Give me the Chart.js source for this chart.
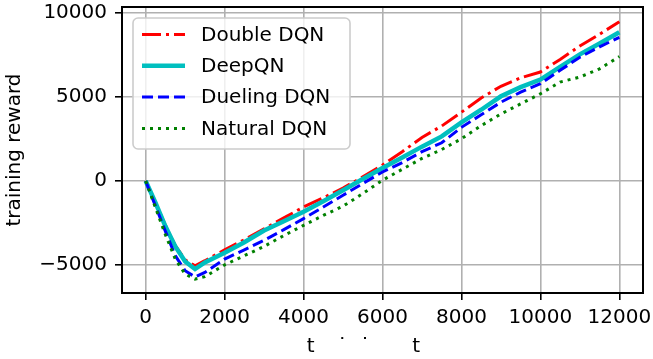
<!DOCTYPE html>
<html>
<head>
<meta charset="utf-8">
<script src="https://cdn.jsdelivr.net/npm/chart.js@4.4.1/dist/chart.umd.min.js"></script>
<style>
  html, body { margin: 0; padding: 0; background: #fff; }
  canvas { display: block; }
</style>
</head>
<body>
<canvas id="rewardChart" width="653" height="359"></canvas>
<script>
// training steps (x) shared by all runs
const STEPS = [0, 250, 500, 750, 1000, 1250, 1500, 2000, 2500, 3000, 3500, 4000, 4500, 5000,
  5500, 6000, 6500, 7000, 7500, 8000, 8500, 9000, 9500, 10000, 10500, 11000, 11500, 12000];

// cumulative training reward per run
const DOUBLE_DQN = [0, -1300, -2650, -3850, -4700, -5050, -4750, -4100, -3500, -2850, -2200, -1550, -1000, -420,
  250, 950, 1750, 2600, 3280, 4100, 4950, 5650, 6150, 6500, 7250, 8050, 8750, 9500];
const DEEP_QN = [0, -1300, -2700, -3900, -4800, -5250, -4850, -4280, -3650, -2950, -2400, -1830, -1200, -550,
  120, 780, 1400, 2050, 2660, 3500, 4250, 5050, 5600, 6050, 6800, 7550, 8200, 8870];
const DUELING_DQN = [0, -1500, -3000, -4450, -5350, -5720, -5450, -4650, -4100, -3530, -2900, -2240, -1550, -850,
  -150, 540, 1100, 1750, 2280, 3200, 3950, 4700, 5300, 5800, 6600, 7380, 8000, 8570];
const NATURAL_DQN = [0, -1600, -3200, -4650, -5550, -5850, -5700, -5000, -4450, -3900, -3250, -2640, -2050, -1500,
  -750, 50, 700, 1350, 1880, 2520, 3300, 4000, 4600, 5200, 5900, 6200, 6690, 7420];

const SERIES_LABELS = ['Double DQN', 'DeepQN', 'Dueling DQN', 'Natural DQN'];
const X_TICKS = [0, 2000, 4000, 6000, 8000, 10000, 12000];
const Y_TICKS = [-5000, 0, 5000, 10000];

const FONT = 'DejaVu Sans';
Chart.defaults.font.family = FONT;
Chart.defaults.font.size = 20;
Chart.defaults.color = '#000';

const pts = ys => STEPS.map((x, i) => ({ x, y: ys[i] }));
const minus = v => v < 0 ? '\u2212' + Math.abs(v) : String(v);

// frame + legend drawn on top, matplotlib style
const frameAndLegend = {
  id: 'frameAndLegend',
  afterDraw(chart) {
    const ctx = chart.ctx;
    const a = chart.chartArea;
    ctx.save();
    ctx.strokeStyle = '#000';
    ctx.lineWidth = 2;
    ctx.strokeRect(a.left, a.top, a.right - a.left, a.bottom - a.top);

    const bx = a.left + 11, by = a.top + 11, bw = 217, bh = 131;
    ctx.beginPath();
    ctx.roundRect(bx, by, bw, bh, 5);
    ctx.fillStyle = 'rgba(255,255,255,0.8)';
    ctx.fill();
    ctx.strokeStyle = '#cccccc';
    ctx.lineWidth = 1.6;
    ctx.stroke();

    ctx.font = '20px "' + FONT + '"';
    ctx.textBaseline = 'middle';
    ctx.textAlign = 'left';
    chart.data.datasets.forEach((ds, i) => {
      const y = a.top + 27.5 + i * 31.3;
      ctx.beginPath();
      ctx.setLineDash(ds.borderDash || []);
      ctx.strokeStyle = ds.borderColor;
      ctx.lineWidth = ds.borderWidth;
      ctx.lineCap = 'butt';
      ctx.moveTo(a.left + 20, y);
      ctx.lineTo(a.left + 63, y);
      ctx.stroke();
      ctx.setLineDash([]);
      ctx.fillStyle = '#000';
      ctx.fillText(ds.label, a.left + 79, y + 1);
    });
    ctx.restore();
  }
};

new Chart(document.getElementById('rewardChart'), {
  type: 'line',
  data: {
    datasets: [
      { label: SERIES_LABELS[0], data: pts(DOUBLE_DQN), borderColor: '#ff0000', borderWidth: 3,
        borderDash: [19, 5, 3, 5], order: 4 },
      { label: SERIES_LABELS[1], data: pts(DEEP_QN), borderColor: '#00bfbf', borderWidth: 4.5, order: 3 },
      { label: SERIES_LABELS[2], data: pts(DUELING_DQN), borderColor: '#0000ff', borderWidth: 3,
        borderDash: [11, 5], order: 2 },
      { label: SERIES_LABELS[3], data: pts(NATURAL_DQN), borderColor: '#008000', borderWidth: 3,
        borderDash: [3, 5], order: 1 }
    ]
  },
  options: {
    responsive: false,
    animation: false,
    events: [],
    layout: { padding: { left: 0, top: 7, right: 10, bottom: 0 } },
    elements: { point: { radius: 0 }, line: { tension: 0, borderCapStyle: 'butt' } },
    plugins: { legend: { display: false }, tooltip: { enabled: false } },
    scales: {
      x: {
        type: 'linear',
        min: -600, max: 12600,
        afterBuildTicks: s => { s.ticks = X_TICKS.map(v => ({ value: v })); },
        afterFit: s => { s.height = 66; s.paddingLeft = 0; s.paddingRight = 0; },
        ticks: { padding: 6, maxRotation: 0, autoSkip: false, color: '#000', callback: v => String(v) },
        grid: { color: '#b0b0b0', lineWidth: 1.6, tickColor: '#000', tickWidth: 1.6, tickLength: 7 },
        border: { display: false },
        title: { display: true, text: 't  \u2002\u02d9  \u02d9   \u2009   t      ', color: '#000',
          font: { size: 20 }, padding: { top: 1, bottom: 0 } }
      },
      y: {
        min: -6675, max: 10375,
        afterBuildTicks: s => { s.ticks = Y_TICKS.map(v => ({ value: v })); },
        afterFit: s => { s.width = 122; s.paddingTop = 0; s.paddingBottom = 0; },
        ticks: { padding: 8, color: '#000', callback: v => minus(v) },
        grid: { color: '#b0b0b0', lineWidth: 1.6, tickColor: '#000', tickWidth: 1.6, tickLength: 7 },
        border: { display: false },
        title: { display: true, text: 'training reward', color: '#000',
          font: { size: 20 }, padding: { top: 3, bottom: 0 } }
      }
    }
  },
  plugins: [frameAndLegend]
});
</script>
</body>
</html>
